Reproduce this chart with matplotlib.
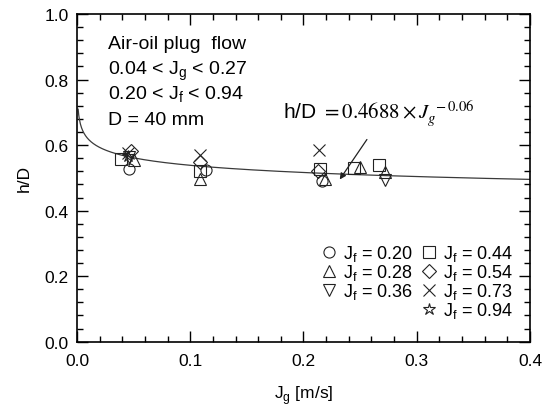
import numpy as np
import matplotlib
matplotlib.use("Agg")
import matplotlib.pyplot as plt
from matplotlib.ticker import MultipleLocator, FormatStrFormatter
from matplotlib.lines import Line2D

plt.rcParams['font.family'] = ['Liberation Sans', 'DejaVu Sans']

# ---- data ----
jf_labels = ['0.20', '0.28', '0.36', '0.44', '0.54', '0.73', '0.94']
markers = ['o', '^', 'v', 's', 'D', 'x', '*']
msizes = [8, 8, 8, 8, 7, 8, 9]

jg_020 = [0.046, 0.114, 0.216]
hd_020 = [0.528, 0.523, 0.490]
jg_028 = [0.050, 0.109, 0.219, 0.250, 0.272]
hd_028 = [0.554, 0.497, 0.495, 0.533, 0.518]
jg_036 = [0.046, 0.272]
hd_036 = [0.565, 0.494]
jg_044 = [0.039, 0.109, 0.215, 0.245, 0.267]
hd_044 = [0.558, 0.520, 0.528, 0.531, 0.538]
jg_054 = [0.048, 0.109, 0.213]
hd_054 = [0.582, 0.548, 0.522]
jg_073 = [0.045, 0.109, 0.214]
hd_073 = [0.577, 0.571, 0.585]
jg_094 = [0.045]
hd_094 = [0.568]

series_jg = [jg_020, jg_028, jg_036, jg_044, jg_054, jg_073, jg_094]
series_hd = [hd_020, hd_028, hd_036, hd_044, hd_054, hd_073, hd_094]

fit_coef = 0.4688
fit_exp = -0.06
fit_jg = np.linspace(0.001, 0.4, 800)
fit_hd = fit_coef * fit_jg ** fit_exp

info_lines = ['Air-oil plug  flow',
              r'0.04 < J$_\mathregular{g}$ < 0.27',
              r'0.20 < J$_\mathregular{f}$ < 0.94',
              'D = 40 mm']

# ---- figure ----
fig = plt.figure(figsize=(5.5, 4.06), dpi=100)
ax = fig.add_axes([0.14, 0.156, 0.8236, 0.807])

ax.plot(fit_jg, fit_hd, color='#3a3a3a', lw=0.9, zorder=2)

handles = []
for jg, hd, m, ms, lab in zip(series_jg, series_hd, markers, msizes, jf_labels):
    h, = ax.plot(jg, hd, linestyle='none', marker=m, markersize=ms,
                 markerfacecolor='none', markeredgecolor='#222222',
                 markeredgewidth=0.8, zorder=3,
                 label=r'J$_\mathregular{f}$ = ' + lab)
    handles.append(h)

blank = Line2D([], [], linestyle='none', marker='none', label=' ')
leg_handles = handles[:3] + [blank] + handles[3:]
leg = ax.legend(handles=leg_handles, ncol=2, loc='lower right',
                bbox_to_anchor=(0.962, 0.065), frameon=False, fontsize=13,
                handlelength=0.7, handletextpad=0.4, columnspacing=0.55,
                labelspacing=-0.05, borderpad=0.0, borderaxespad=0.0)

ax.set_xlim(0, 0.4)
ax.set_ylim(0, 1.0)
ax.xaxis.set_major_locator(MultipleLocator(0.1))
ax.xaxis.set_minor_locator(MultipleLocator(0.02))
ax.yaxis.set_major_locator(MultipleLocator(0.2))
ax.yaxis.set_minor_locator(MultipleLocator(0.04))
ax.xaxis.set_major_formatter(FormatStrFormatter('%.1f'))
ax.yaxis.set_major_formatter(FormatStrFormatter('%.1f'))
ax.tick_params(which='both', direction='in', top=True, right=True,
               labelsize=12.5, width=1.0)
ax.tick_params(axis='x', which='both', pad=8)
ax.tick_params(axis='y', which='both', pad=6)
ax.tick_params(which='major', length=8)
ax.tick_params(which='minor', length=4)
for s in ax.spines.values():
    s.set_linewidth(1.2)

ax.set_xlabel(r'J$_\mathregular{g}$ [m/s]', fontsize=12.5, labelpad=11)
ax.set_ylabel('h/D', fontsize=12.5, labelpad=9)

for i, line in enumerate(info_lines):
    ax.text(0.027, 0.895 - i * 0.0765, line, fontsize=14,
            va='baseline', ha='left')

ax.text(0.182, 0.684, r'h/D $= 0.4688 \times J_g^{\ -0.06}$',
        fontsize=15, math_fontfamily='stix', ha='left', va='baseline')
ax.annotate('', xy=(0.232, 0.495), xytext=(0.256, 0.617),
            arrowprops=dict(arrowstyle='-|>', color='#222222', lw=0.9,
                            mutation_scale=9, shrinkA=0, shrinkB=0))

fig.savefig('out.png', dpi=100)
